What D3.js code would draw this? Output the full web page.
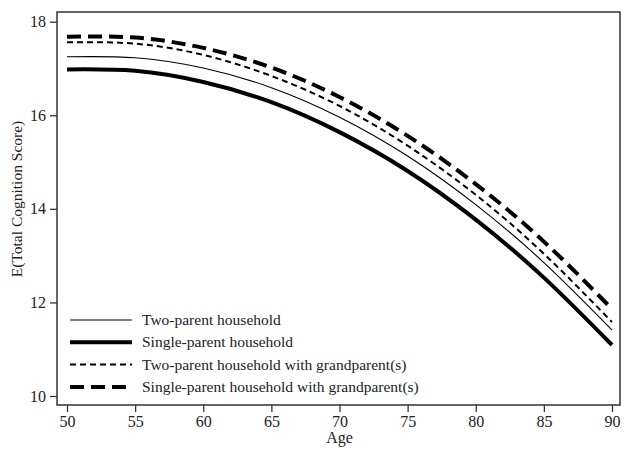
<!DOCTYPE html>
<html><head><meta charset="utf-8">
<script src="https://cdn.jsdelivr.net/npm/d3@7"></script>
<style>body{margin:0;background:#fff;} svg{display:block;} svg text{font-family:"Liberation Serif","Times New Roman",serif !important;}</style>
</head><body><svg id="c" width="627" height="452"></svg>
<script>
const ages = [50,55,60,65,70,75,80,85,90];
const twoParent = [17.25,17.23,17.01,16.59,15.96,15.13,14.09,12.85,11.41];
const singleParent = [16.98,16.95,16.71,16.28,15.64,14.81,13.77,12.53,11.09];
const twoParentGrand = [17.56,17.53,17.29,16.84,16.20,15.35,14.30,13.04,11.58];
const singleParentGrand = [17.68,17.66,17.44,17.02,16.39,15.56,14.53,13.30,11.86];
const xTicks = [50,55,60,65,70,75,80,85,90];
const yTicks = [10,12,14,16,18];
const seriesNames = ["Two-parent household","Single-parent household","Two-parent household with grandparent(s)","Single-parent household with grandparent(s)"];

const series = [
  {name:seriesNames[0], values:twoParent, w:1.1, dash:null},
  {name:seriesNames[1], values:singleParent, w:4, dash:null},
  {name:seriesNames[2], values:twoParentGrand, w:2, dash:"6,4"},
  {name:seriesNames[3], values:singleParentGrand, w:4, dash:"14,7"}
];

const svg = d3.select("#c");
const L=57, R=620, T=12, B=405;
const x = d3.scaleLinear().domain([50,90]).range([67,612]);
const y = d3.scaleLinear().domain([10,18]).range([396,21.7]);

svg.append("rect").attr("x",L).attr("y",T).attr("width",R-L).attr("height",B-T)
  .attr("fill","none").attr("stroke","#333").attr("stroke-width",1.5);

const xa = svg.append("g").attr("transform",`translate(0,${B})`)
  .call(d3.axisBottom(x).tickValues(xTicks).tickSize(7).tickPadding(4).tickFormat(d3.format("d")));
const ya = svg.append("g").attr("transform",`translate(${L},0)`)
  .call(d3.axisLeft(y).tickValues(yTicks).tickSize(7).tickPadding(4).tickFormat(d3.format("d")));
[xa,ya].forEach(a=>{
  a.attr("font-family",null).attr("font-size",null);
  a.select(".domain").remove();
  a.selectAll(".tick line").attr("stroke","#333").attr("stroke-width",1.3);
  a.selectAll(".tick text").attr("fill","#222").style("font-size","16px");
});

svg.append("text").attr("x",(L+R)/2+1).attr("y",443).attr("text-anchor","middle")
  .style("font-size","16px").attr("fill","#222").text("Age");
svg.append("text").attr("transform","translate(22,199) rotate(-90)").attr("text-anchor","middle")
  .style("font-size","15.5px").attr("fill","#222").text("E(Total Cognition Score)");

const line = d3.line().x((d,i)=>x(ages[i])).y(d=>y(d)).curve(d3.curveNatural);
series.forEach(s=>{
  svg.append("path").datum(s.values).attr("d",line).attr("fill","none")
    .attr("stroke","#000").attr("stroke-width",s.w).attr("stroke-dasharray",s.dash);
});

const lg = svg.append("g");
series.forEach((s,i)=>{
  const yy = 320 + i*22.3;
  lg.append("line").attr("x1",70).attr("x2",132).attr("y1",yy).attr("y2",yy)
    .attr("stroke","#000").attr("stroke-width",s.w).attr("stroke-dasharray",s.dash);
  lg.append("text").attr("x",142).attr("y",yy+5).style("font-size","15.5px").attr("fill","#222").text(s.name);
});
</script></body></html>
